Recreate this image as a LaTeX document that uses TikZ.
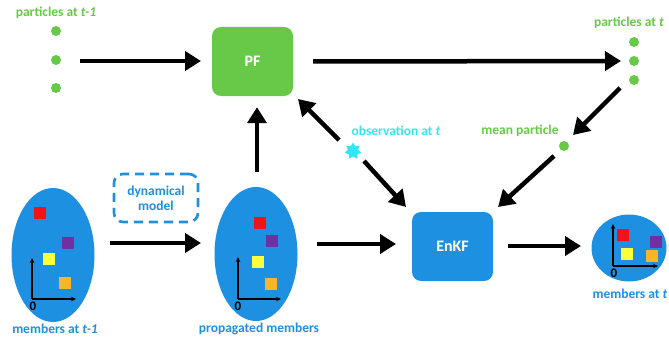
\documentclass[tikz,border=0pt]{standalone}
\usepackage{fontspec}
\setmainfont{Carlito}
\usetikzlibrary{arrows.meta,shapes.geometric,calc}
\definecolor{pfgreen}{RGB}{104,200,72}
\definecolor{enblue}{RGB}{30,144,226}
\definecolor{txtblue}{RGB}{31,143,224}
\definecolor{obscyan}{RGB}{50,230,245}
\definecolor{sqred}{RGB}{240,20,24}
\definecolor{sqpurple}{RGB}{112,48,160}
\definecolor{sqyellow}{RGB}{255,255,60}
\definecolor{sqorange}{RGB}{250,180,40}
\tikzset{
  bigarrow/.style={line width=4.5pt,-{Triangle[length=16pt,width=19pt]}},
  axarrow/.style={line width=1.2pt,-{Stealth[length=5pt,width=4.5pt]}},
  lbl/.style={font=\bfseries\fontsize{13.5}{15}\selectfont,inner sep=0pt},
  glbl/.style={lbl,text=pfgreen},
  blbl/.style={lbl,text=txtblue},
  dot/.style={circle,fill=pfgreen,minimum size=10pt,inner sep=0pt},
  sq/.style={minimum size=12.5pt,inner sep=0pt},
  procbox/.style={rounded corners=9pt,minimum width=81pt,inner sep=0pt,text=white,font=\bfseries\fontsize{16}{18}\selectfont},
  memb/.style={ellipse,fill=enblue,inner sep=0pt},
  zero/.style={font=\bfseries\fontsize{13}{14}\selectfont,inner sep=0pt},
}
\begin{document}
\begin{tikzpicture}[x=1pt,y=-1pt]
\useasboundingbox (0,0) rectangle (669,337);
% particles at t-1
\node[glbl] (ptm1) at (56,13) {particles at \textit{t-1}};
\node[dot] (d1) at (56,31) {};
\node[dot] (d2) at (56,60) {};
\node[dot] (d3) at (56,88) {};
% PF
\node[procbox,fill=pfgreen,minimum height=69pt] (pf) at (252.5,61.5) {PF};
% particles at t
\node[glbl] (pt) at (629,23) {particles at \textit{t}};
\node[dot] (e1) at (634,42) {};
\node[dot] (e2) at (634,61) {};
\node[dot] (e3) at (634,80) {};
% mean particle
\node[glbl] (mplbl) at (520,131) {mean particle};
\node[dot] (mp) at (564,146) {};
% EnKF
\node[procbox,fill=enblue,minimum height=69pt] (enkf) at (452.5,246.5) {EnKF};
% observation
\node[star,star points=7,star point ratio=1.6,fill=obscyan,minimum size=17pt,inner sep=0pt] (obs) at (353,151) {};
\node[lbl,text=obscyan] (obslbl) at (396,131) {observation at \textit{t}};
% dynamical model
\node[draw=txtblue,line width=2.6pt,dash pattern=on 9pt off 6pt,rounded corners=9pt,minimum width=84pt,minimum height=48pt,inner sep=0pt,align=center,blbl] (dyn) at (156,198) {dynamical\\model};
% members t-1
\node[memb,minimum width=83pt,minimum height=134pt] (m0) at (53,255) {};
\node[sq,fill=sqred] (r0) at (40,213) {};
\node[sq,fill=sqpurple] (p0) at (68,243) {};
\node[sq,fill=sqyellow] (y0) at (49,259) {};
\node[sq,fill=sqorange] (o0) at (65,283) {};
\coordinate (a0) at (32,299);
\coordinate (a0y) at (32,258);
\coordinate (a0x) at (76,299);
\draw[axarrow] (a0) -- (a0y);
\draw[axarrow] (a0) -- (a0x);
\node[zero] (z0) at (33,306) {0};
\node[blbl] (m0lbl) at (55,329) {members at \textit{t-1}};
% propagated members
\node[memb,minimum width=83pt,minimum height=134pt] (m1) at (256,254) {};
\node[sq,fill=sqred] (r1) at (260,223) {};
\node[sq,fill=sqpurple] (p1) at (272,241) {};
\node[sq,fill=sqyellow] (y1) at (258,262) {};
\node[sq,fill=sqorange] (o1) at (271,284) {};
\coordinate (a1) at (238,299);
\coordinate (a1y) at (238,257);
\coordinate (a1x) at (281,299);
\draw[axarrow] (a1) -- (a1y);
\draw[axarrow] (a1) -- (a1x);
\node[zero] (z1) at (238,306) {0};
\node[blbl] (m1lbl) at (259,329) {propagated members};
% members at t
\node[memb,minimum width=75pt,minimum height=67pt] (m2) at (629,248) {};
\node[sq,fill=sqred] (r2) at (623,235) {};
\node[sq,fill=sqpurple] (p2) at (656,242) {};
\node[sq,fill=sqyellow] (y2) at (627,254) {};
\node[sq,fill=sqorange] (o2) at (652,256) {};
\coordinate (a2) at (613,266);
\coordinate (a2y) at (613,224);
\coordinate (a2x) at (658,266);
\draw[axarrow] (a2) -- (a2y);
\draw[axarrow] (a2) -- (a2x);
\node[zero] (z2) at (614,273) {0};
\node[blbl] (m2lbl) at (630,294) {members at \textit{t}};
% arrows
\coordinate (s1) at (80,61);
\coordinate (t1) at (201,61);
\draw[bigarrow] (s1) -- (t1);
\coordinate (s2) at ($(pf.east)+(20,0)$);
\coordinate (t2) at (621,61);
\draw[bigarrow] (s2) -- (t2);
\coordinate (s3) at ($(e3)+(-14,8)$);
\coordinate (t3) at (573,135);
\draw[bigarrow] (s3) -- (t3);
\coordinate (s4) at ($(mp)+(-10,10)$);
\coordinate (t4) at (498,207);
\draw[bigarrow] (s4) -- (t4);
\coordinate (s5) at ($(obs)+(11,10)$);
\coordinate (t5) at (406,207);
\draw[bigarrow] (s5) -- (t5);
\coordinate (s6) at ($(obs)+(-14,-11)$);
\coordinate (t6) at (298,99);
\draw[bigarrow] (s6) -- (t6);
\coordinate (s7) at (257,172);
\coordinate (t7) at ($(pf.south)+(4.5,11)$);
\draw[bigarrow] (s7) -- (t7);
\coordinate (s8) at (110,243);
\coordinate (t8) at (201,243);
\draw[bigarrow] (s8) -- (t8);
\coordinate (s9) at (317,244);
\coordinate (t9) at (396,244);
\draw[bigarrow] (s9) -- (t9);
\coordinate (s10) at (508,246);
\coordinate (t10) at (581,246);
\draw[bigarrow] (s10) -- (t10);
\end{tikzpicture}
\end{document}
